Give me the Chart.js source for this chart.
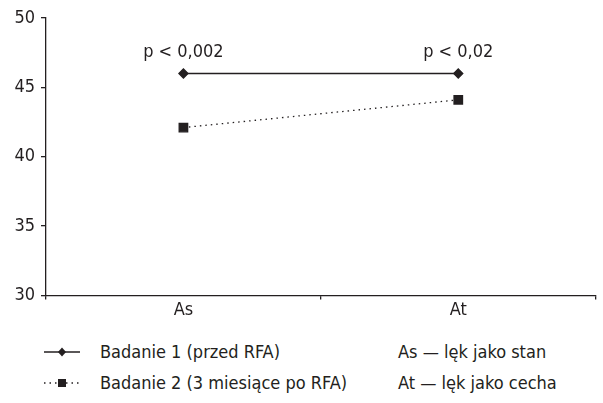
<!DOCTYPE html>
<html>
<head>
<meta charset="utf-8">
<script src="https://cdn.jsdelivr.net/npm/chart.js@4"></script>
<style>
  body { margin: 0; background: #fff; font-family: "DejaVu Sans Condensed", "Liberation Sans", sans-serif; color: #231f20; }
  #wrap { position: relative; width: 603px; height: 321px; }
  .legend { position: absolute; left: 0; top: 330px; width: 603px; font-size: 18px; }
  .row { position: absolute; left: 0; height: 24px; line-height: 24px; white-space: nowrap; }
  .row svg { position: absolute; left: 42px; top: 4px; }
  .row .lab { position: absolute; left: 100px; }
  .row .desc { position: absolute; left: 398px; }
</style>
</head>
<body>
<div id="wrap"><canvas id="chart"></canvas></div>
<div class="legend" id="legend"></div>
<script>
// dane
var categories = ['As', 'At'];
var badanie1 = [46, 46];
var badanie2 = [42.1, 44.1];
var pLabels = ['p < 0,002', 'p < 0,02'];
var seriesNames = ['Badanie 1 (przed RFA)', 'Badanie 2 (3 miesiące po RFA)'];
var descriptions = ['As \u2014 lęk jako stan', 'At \u2014 lęk jako cecha'];
var yTicks = [30, 35, 40, 45, 50];

var ink = '#231f20';
var font = "'DejaVu Sans Condensed', 'Liberation Sans', sans-serif";

// napisy p nad punktami
var pPlugin = {
  id: 'pLabels',
  afterDatasetsDraw: function(chart) {
    var ctx = chart.ctx;
    var meta = chart.getDatasetMeta(0);
    ctx.save();
    ctx.font = '18px ' + font;
    ctx.fillStyle = ink;
    ctx.textAlign = 'center';
    ctx.textBaseline = 'bottom';
    meta.data.forEach(function(pt, i) {
      ctx.fillText(pLabels[i], pt.x, pt.y - 12);
    });
    ctx.restore();
  }
};

var ctx = document.getElementById('chart').getContext('2d');
var chart = new Chart(ctx, {
  type: 'line',
  data: {
    labels: categories,
    datasets: [{
      label: seriesNames[0],
      data: badanie1,
      borderColor: ink,
      backgroundColor: ink,
      borderWidth: 1.3,
      pointStyle: 'rectRot',
      pointRadius: 4.5,
      pointHoverRadius: 4.5
    }, {
      label: seriesNames[1],
      data: badanie2,
      borderColor: ink,
      backgroundColor: ink,
      borderWidth: 1.3,
      borderDash: [1.5, 4],
      pointStyle: 'rect',
      pointRadius: 6,
      pointHoverRadius: 6
    }]
  },
  options: {
    responsive: true,
    maintainAspectRatio: false,
    animation: false,
    layout: { padding: { top: 18, right: 3, left: 0, bottom: 0 } },
    plugins: { legend: { display: false }, tooltip: { enabled: false } },
    scales: {
      x: {
        offset: true,
        grid: { display: true, offset: true, drawOnChartArea: false, drawTicks: true, tickLength: 4, color: ink, lineWidth: 1.3 },
        border: { display: true, color: ink, width: 1.3 },
        ticks: { color: ink, font: { family: font, size: 18 }, padding: 0 }
      },
      y: {
        min: 30, max: 50,
        afterBuildTicks: function(axis) { axis.ticks = yTicks.map(function(v) { return { value: v }; }); },
        afterFit: function(axis) { axis.width = 46; },
        grid: { drawOnChartArea: false, drawTicks: true, tickLength: 5, color: ink, lineWidth: 1.3 },
        border: { display: true, color: ink, width: 1.3 },
        ticks: { color: ink, font: { family: font, size: 18 }, padding: 6 }
      }
    }
  },
  plugins: [pPlugin]
});

// legenda w HTML
var legendEl = document.getElementById('legend');
var symbols = [
  '<svg width="40" height="16"><line x1="2" y1="8" x2="38" y2="8" stroke="' + ink + '" stroke-width="1.3"/><polygon points="20,3.5 24,8 20,12.5 16,8" fill="' + ink + '"/></svg>',
  '<svg width="40" height="16"><line x1="2" y1="8" x2="38" y2="8" stroke="' + ink + '" stroke-width="1.3" stroke-dasharray="1.5 4"/><rect x="16" y="4" width="8" height="8" fill="' + ink + '"/></svg>'
];
seriesNames.forEach(function(name, i) {
  var row = document.createElement('div');
  row.className = 'row';
  row.style.top = (10 + i * 31) + 'px';
  row.innerHTML = symbols[i] + '<span class="lab">' + name + '</span><span class="desc">' + descriptions[i] + '</span>';
  legendEl.appendChild(row);
});
</script>
</body>
</html>
